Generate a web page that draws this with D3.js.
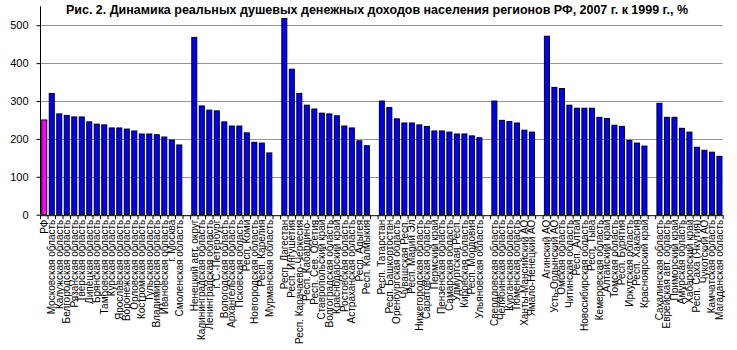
<!DOCTYPE html>
<html lang="ru">
<head>
<meta charset="UTF-8">
<title>Динамика реальных душевых денежных доходов</title>
<script src="https://d3js.org/d3.v7.min.js"></script>
<style>
    body { margin: 0; background: #fff; }
    svg { display: block; font-family: Arial, "Liberation Sans", sans-serif; }
    .grid line { stroke: #969696; stroke-width: 1; }
    .axis path, .axis line { stroke: #000; }
    .axis text { font-size: 11px; fill: #000; }
    .xlabel { font-size: 10px; fill: #000; }
    .bar { stroke: #000; stroke-width: 1; }
</style>
</head>
<body>
<svg id="chart" width="737" height="350"></svg>
<script>
// федеральные округа, порядок как на графике
const centerNames = ["РФ", "Московская область", "Калужская область", "Белгородская область", "Рязанская область",
    "Тверская область", "Липецкая область", "Брянская область", "Тамбовская область", "Курская область",
    "Ярославская область", "Воронежская область", "Орловская область", "Костромская область", "Тульская область",
    "Владимирская область", "Ивановская область", "г. Москва", "Смоленская область"];
const centerValues = [250, 320, 266, 262, 258, 258, 245, 239, 237, 229, 229, 226, 221, 213, 213, 211, 205, 197, 184];

const northwestNames = ["Ненецкий авт. округ", "Калининградская область", "Ленинградская область", "г. С.-Петербург",
    "Вологодская область", "Архангельская область", "Псковская область", "Респ. Коми", "Новгородская область",
    "Респ. Карелия", "Мурманская область"];
const northwestValues = [468, 287, 276, 274, 245, 234, 234, 216, 191, 189, 163];

const southNames = ["Респ. Дагестан", "Респ. Ингушетия", "Респ. Карачаево-Черкесия", "Респ. Кабардино-",
    "Респ. Сев. Осетия", "Ставропольский край", "Волгоградская область", "Краснодарский край",
    "Ростовская область", "Астраханская область", "Респ. Адыгея", "Респ. Калмыкия"];
const southValues = [518, 384, 320, 289, 279, 268, 266, 261, 234, 229, 195, 182];

const volgaNames = ["Респ. Татарстан", "Респ. Башкортостан", "Оренбургская область", "Чувашская Респ.",
    "Респ. Марий Эл", "Нижегородская область", "Саратовская область", "Пермский край", "Пензенская область",
    "Самарская область", "Удмуртская Респ.", "Кировская область", "Респ. Мордовия", "Ульяновская область"];
const volgaValues = [300, 283, 253, 242, 242, 237, 233, 221, 221, 218, 213, 213, 208, 203];

const uralNames = ["Свердловская область", "Челябинская область", "Курганская область", "Тюменская область",
    "Ханты-Мансийский АО", "Ямало-Ненецкий АО"];
const uralValues = [300, 249, 246, 242, 223, 218];

const siberiaNames = ["Агинский АО", "Усть-Ордынский АО", "Омская область", "Читинская область", "Респ. Алтай",
    "Новосибирская область", "Респ. Тыва", "Кемеровская область", "Алтайский край", "Томская область",
    "Респ. Бурятия", "Иркутская область", "Респ. Хакасия", "Красноярский край"];
const siberiaValues = [471, 336, 333, 289, 281, 281, 281, 257, 254, 236, 233, 196, 189, 181];

const fareastNames = ["Сахалинская область", "Еврейская авт. область", "Приморский край", "Амурская область",
    "Хабаровский край", "Респ. Саха (Якутия)", "Чукотский АО", "Камчатская область", "Магаданская область"];
const fareastValues = [294, 257, 257, 228, 218, 178, 170, 165, 154];

const yTicks = [0, 100, 200, 300, 400, 500];
const title = "Рис. 2. Динамика реальных душевых денежных доходов населения регионов РФ, 2007 г. к 1999 г., %";

// собираем один ряд, между округами пустая категория
const groups = [
    [centerNames, centerValues], [northwestNames, northwestValues], [southNames, southValues],
    [volgaNames, volgaValues], [uralNames, uralValues], [siberiaNames, siberiaValues], [fareastNames, fareastValues]
];
const data = [];
groups.forEach(([names, vals], gi) => {
    if (gi > 0) data.push({ key: "gap" + gi, name: "", value: null });
    names.forEach((n, i) => data.push({ key: n, name: n, value: vals[i] }));
});

const svg = d3.select("#chart");
const plotLeft = 40, plotRight = 722.7, plotTop = 6.3, plotBottom = 214.7;

const x = d3.scaleBand()
    .domain(data.map(d => d.key))
    .range([plotLeft, plotRight])
    .paddingInner(1 / 3)
    .paddingOuter(1 / 6);

const y = d3.scaleLinear().domain([0, 550]).range([plotBottom, plotTop]);

// линии сетки
svg.append("g")
    .attr("class", "grid")
    .selectAll("line")
    .data(yTicks.filter(t => t > 0))
    .enter().append("line")
    .attr("x1", plotLeft).attr("x2", plotRight)
    .attr("y1", d => Math.round(y(d)) + 0.5)
    .attr("y2", d => Math.round(y(d)) + 0.5);

// столбики
svg.append("g")
    .selectAll("rect")
    .data(data.filter(d => d.value !== null))
    .enter().append("rect")
    .attr("class", "bar")
    .attr("x", d => x(d.key) + 0.5)
    .attr("y", d => y(d.value))
    .attr("width", x.bandwidth())
    .attr("height", d => plotBottom - y(d.value))
    .attr("fill", d => d.name === "РФ" ? "#ff00ff" : "#0000ff");

// ось Y
svg.append("g")
    .attr("class", "axis")
    .attr("transform", `translate(${plotLeft + 0.5},0)`)
    .call(d3.axisLeft(y).tickValues(yTicks).tickSize(4).tickSizeOuter(0).tickPadding(8))
    .call(g => g.select(".domain").attr("d", `M0,${plotTop}V${plotBottom}`));

// ось X: засечки на границах категорий
const edge = d3.scaleLinear().domain([0, data.length]).range([plotLeft, plotRight]);
svg.append("g")
    .attr("class", "axis")
    .attr("transform", `translate(0,${plotBottom + 0.5})`)
    .call(d3.axisBottom(edge).tickValues(d3.range(data.length + 1)).tickSize(4).tickSizeOuter(0).tickFormat(""));

// подписи регионов
svg.append("g")
    .selectAll("text")
    .data(data.filter(d => d.name))
    .enter().append("text")
    .attr("class", "xlabel")
    .attr("transform", d => `translate(${x(d.key) + x.bandwidth() / 2 + 0.5},${plotBottom + 5}) rotate(-90)`)
    .attr("text-anchor", "end")
    .attr("dy", "0.35em")
    .text(d => d.name);

// заголовок
svg.append("text")
    .attr("x", 66)
    .attr("y", 14)
    .attr("textLength", 622)
    .attr("lengthAdjust", "spacingAndGlyphs")
    .style("font-size", "12px")
    .style("font-weight", "bold")
    .text(title);
</script>
</body>
</html>
